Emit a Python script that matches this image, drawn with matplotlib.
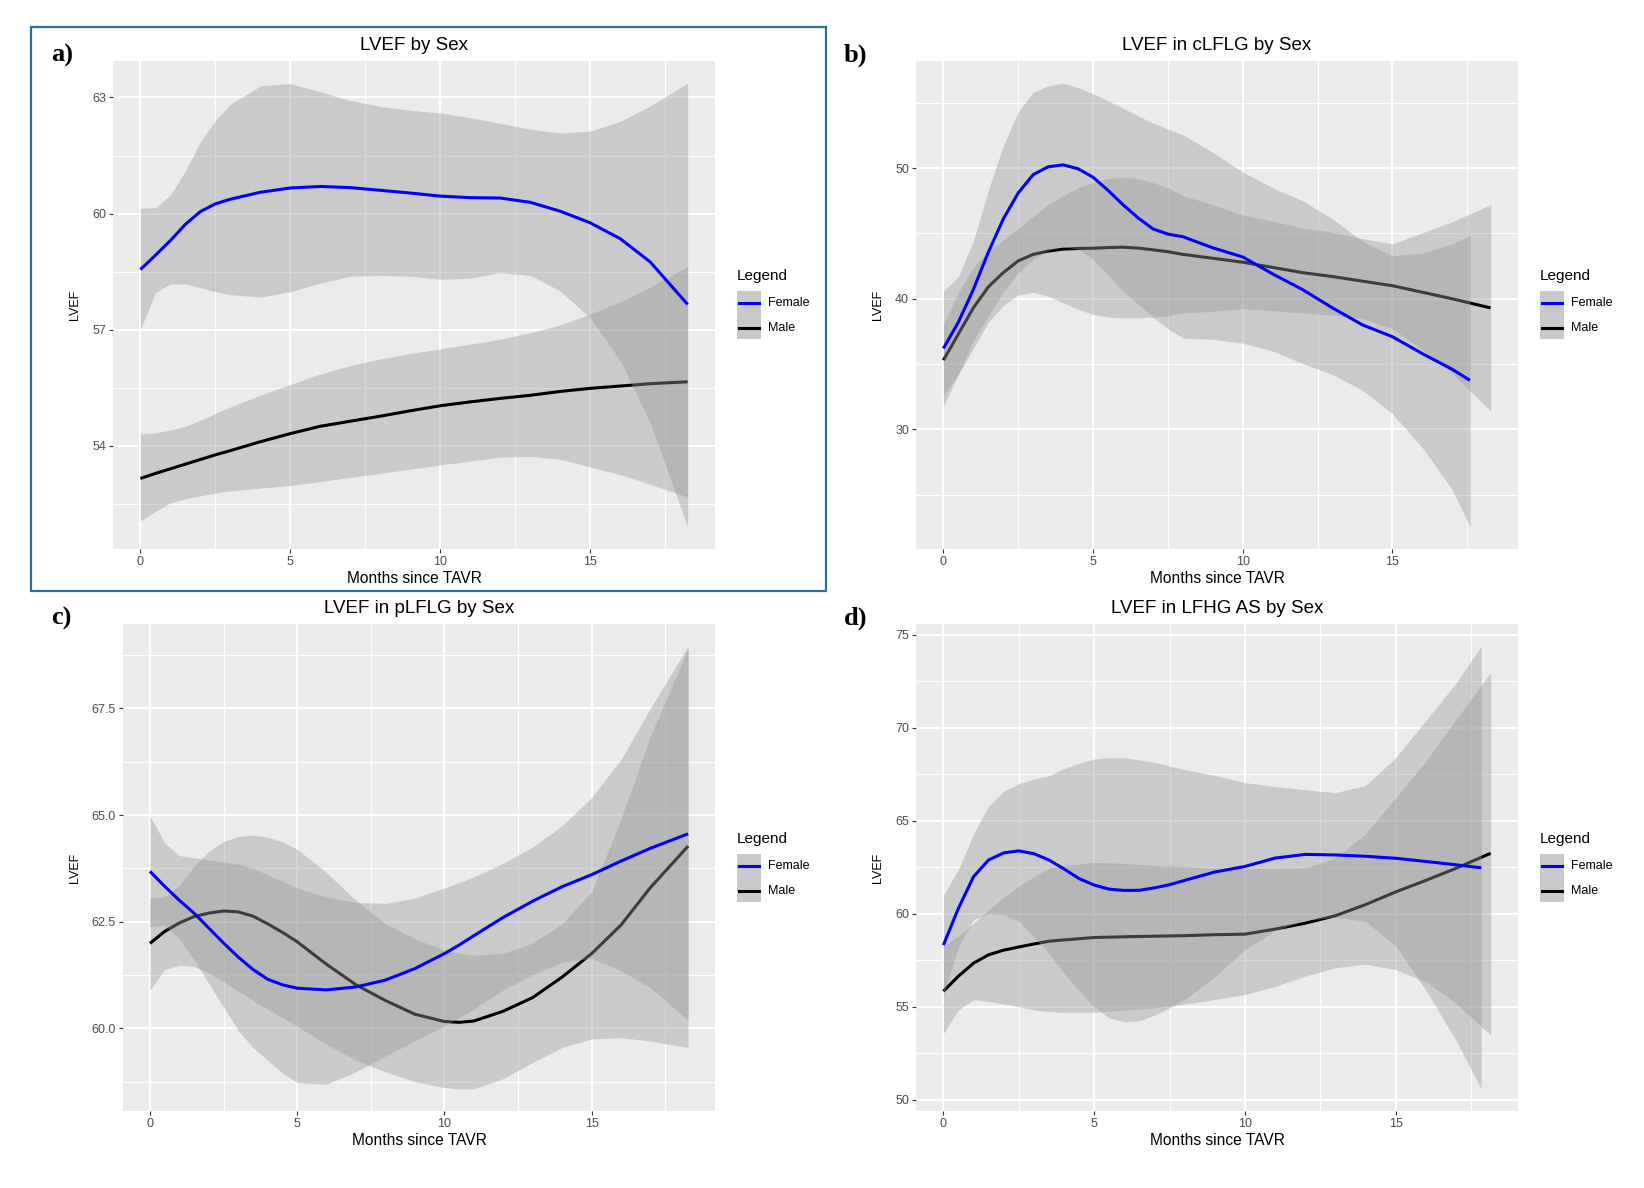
import matplotlib
matplotlib.use("Agg")
import matplotlib.pyplot as plt
from matplotlib.lines import Line2D
from matplotlib.patches import Rectangle
from matplotlib.ticker import MultipleLocator, FormatStrFormatter

plt.rcParams['font.family'] = ['Liberation Sans', 'DejaVu Sans']

# ---- a) LVEF by Sex ----
a_x = [0, 0.5, 1, 1.5, 2, 2.5, 3, 4, 5, 6, 7, 8, 9, 10, 11, 12, 13, 14, 15, 16, 17, 18.25]
a_f_fit = [58.55, 58.92, 59.3, 59.72, 60.05, 60.25, 60.37, 60.55, 60.66, 60.70, 60.67, 60.60,
           60.53, 60.45, 60.41, 60.40, 60.29, 60.06, 59.76, 59.35, 58.75, 57.65]
a_f_hi = [60.14, 60.15, 60.48, 61.1, 61.85, 62.4, 62.82, 63.3, 63.36, 63.15, 62.92, 62.77,
          62.67, 62.6, 62.48, 62.33, 62.18, 62.08, 62.13, 62.38, 62.78, 63.37]
a_f_lo = [57.0, 57.95, 58.18, 58.18, 58.08, 57.98, 57.9, 57.84, 57.98, 58.2, 58.38, 58.4,
          58.38, 58.3, 58.33, 58.47, 58.4, 58.0, 57.3, 56.2, 54.6, 51.9]
a_m_fit = [53.15, 53.28, 53.4, 53.52, 53.64, 53.76, 53.87, 54.1, 54.31, 54.5, 54.63, 54.76,
           54.9, 55.03, 55.13, 55.22, 55.3, 55.4, 55.48, 55.54, 55.6, 55.65]
a_m_hi = [54.3, 54.33, 54.4, 54.5, 54.66, 54.83, 55.0, 55.3, 55.58, 55.85, 56.07, 56.24,
          56.38, 56.5, 56.62, 56.75, 56.92, 57.12, 57.4, 57.72, 58.1, 58.63]
a_m_lo = [52.05, 52.3, 52.52, 52.63, 52.7, 52.77, 52.83, 52.9, 52.97, 53.07, 53.18, 53.28,
          53.39, 53.5, 53.6, 53.7, 53.72, 53.65, 53.45, 53.25, 53.0, 52.67]

# ---- b) LVEF in cLFLG by Sex ----
b_x_f = [0, 0.5, 1, 1.5, 2, 2.5, 3, 3.5, 4, 4.5, 5, 5.5, 6, 6.5, 7, 7.5, 8,
         9, 10, 11, 12, 13, 14, 15, 16, 17, 17.59]
b_f_fit = [36.2, 38.2, 40.7, 43.55, 46.1, 48.1, 49.5, 50.1, 50.25, 49.95, 49.3, 48.3,
           47.2, 46.2, 45.35, 44.95, 44.75, 43.9, 43.2, 41.9, 40.7, 39.3, 38.0, 37.1,
           35.8, 34.6, 33.76]
b_f_hi = [40.6, 41.7, 44.4, 48.3, 51.7, 54.3, 55.8, 56.3, 56.5, 56.15, 55.7, 55.15,
          54.6, 54.0, 53.45, 53.0, 52.55, 51.2, 49.7, 48.5, 47.5, 46.1, 44.4, 43.3,
          43.5, 44.2, 44.85]
b_f_lo = [31.8, 34.2, 36.8, 38.7, 40.5, 42.0, 43.0, 43.7, 44.0, 43.8, 43.0, 41.8,
          40.6, 39.6, 38.6, 37.7, 37.0, 36.9, 36.6, 36.0, 35.05, 34.2, 33.0, 31.2,
          28.6, 25.4, 22.55]
b_x_m = [0, 0.5, 1, 1.5, 2, 2.5, 3, 3.5, 4, 4.5, 5, 5.5, 6, 6.5, 7, 7.5, 8,
         9, 10, 11, 12, 13, 14, 15, 16, 17, 18.28]
b_m_fit = [35.3, 37.3, 39.3, 40.9, 42.0, 42.9, 43.4, 43.65, 43.8, 43.85, 43.87, 43.92,
           43.95, 43.88, 43.75, 43.6, 43.4, 43.1, 42.8, 42.4, 42.0, 41.7, 41.35, 41.0,
           40.5, 40.0, 39.3]
b_m_hi = [38.0, 40.5, 42.4, 43.6, 44.5, 45.4, 46.3, 47.2, 47.9, 48.5, 48.9, 49.2,
          49.3, 49.2, 48.9, 48.5, 47.9, 47.2, 46.4, 45.95, 45.4, 45.1, 44.6, 44.2,
          45.05, 45.9, 47.2]
b_m_lo = [32.6, 34.2, 36.2, 38.2, 39.5, 40.3, 40.5, 40.2, 39.7, 39.2, 38.8, 38.6,
          38.55, 38.55, 38.6, 38.7, 38.9, 39.05, 39.25, 39.1, 38.9, 38.75, 38.5, 37.7,
          36.1, 34.3, 31.4]

# ---- c) LVEF in pLFLG by Sex ----
c_x = [0, 0.5, 1, 1.5, 2, 2.5, 3, 3.5, 4, 4.5, 5, 6, 7, 8, 9, 10, 10.5, 11, 12, 13, 14,
       15, 16, 17, 18.28]
c_f_fit = [63.68, 63.33, 63.0, 62.7, 62.35, 62.0, 61.67, 61.38, 61.15, 61.02, 60.94, 60.9,
           60.97, 61.13, 61.4, 61.75, 61.95, 62.17, 62.6, 62.98, 63.32, 63.6, 63.92, 64.22,
           64.56]
c_f_hi = [64.98, 64.35, 64.05, 64.0, 63.95, 63.9, 63.85, 63.75, 63.6, 63.45, 63.29, 63.08,
          62.95, 62.93, 63.05, 63.29, 63.42, 63.55, 63.87, 64.25, 64.75, 65.41, 66.3, 67.5,
          68.96]
c_f_lo = [62.38, 62.42, 62.1, 61.6, 61.05, 60.5, 59.95, 59.55, 59.25, 58.95, 58.73, 58.69,
          58.98, 59.35, 59.7, 60.06, 60.25, 60.45, 60.9, 61.25, 61.55, 61.64, 61.35, 60.95,
          60.18]
c_m_fit = [61.99, 62.27, 62.47, 62.62, 62.7, 62.75, 62.73, 62.63, 62.45, 62.25, 62.03,
           61.5, 61.02, 60.65, 60.33, 60.16, 60.14, 60.17, 60.4, 60.72, 61.2, 61.75, 62.42,
           63.3, 64.27]
c_m_hi = [63.05, 63.08, 63.35, 63.8, 64.15, 64.38, 64.5, 64.53, 64.48, 64.37, 64.2, 63.65,
          63.0, 62.45, 62.1, 61.83, 61.76, 61.71, 61.76, 62.0, 62.45, 63.2, 64.9, 66.85,
          68.9]
c_m_lo = [60.89, 61.38, 61.48, 61.45, 61.3, 61.1, 60.87, 60.66, 60.45, 60.25, 60.05, 59.62,
          59.25, 58.98, 58.75, 58.61, 58.58, 58.58, 58.82, 59.2, 59.55, 59.75, 59.78, 59.7,
          59.55]

# ---- d) LVEF in LFHG AS by Sex ----
d_x_f = [0, 0.5, 1, 1.5, 2, 2.5, 3, 3.5, 4, 4.5, 5, 5.5, 6, 6.5, 7, 7.5, 8,
         9, 10, 11, 12, 13, 14, 15, 16, 17, 17.84]
d_f_fit = [58.32, 60.3, 62.0, 62.9, 63.28, 63.39, 63.24, 62.9, 62.42, 61.9, 61.55, 61.33,
           61.26, 61.27, 61.4, 61.57, 61.8, 62.25, 62.55, 63.0, 63.2, 63.17, 63.1, 62.99,
           62.82, 62.64, 62.48]
d_f_hi = [61.0, 62.4, 64.3, 65.8, 66.6, 67.0, 67.25, 67.42, 67.82, 68.1, 68.33, 68.4,
          68.4, 68.28, 68.15, 67.95, 67.76, 67.45, 67.06, 66.85, 66.68, 66.52, 66.9, 68.4,
          70.4, 72.4, 74.4]
d_f_lo = [55.64, 58.2, 59.7, 60.0, 59.95, 59.6, 58.75, 57.9, 56.8, 55.85, 55.0, 54.4,
          54.2, 54.25, 54.55, 54.95, 55.4, 56.6, 58.1, 59.1, 59.65, 59.82, 59.6, 58.28,
          55.9, 53.2, 50.59]
d_x_m = [0, 0.5, 1, 1.5, 2, 2.5, 3, 3.5, 4, 5, 6, 7, 8, 9, 10, 11, 12, 13, 14, 15,
         16, 17, 18.15]
d_m_fit = [55.84, 56.65, 57.35, 57.8, 58.05, 58.22, 58.38, 58.53, 58.6, 58.73, 58.77,
           58.8, 58.83, 58.88, 58.91, 59.18, 59.5, 59.9, 60.5, 61.18, 61.8, 62.45, 63.26]
d_m_hi = [58.28, 58.8, 59.5, 60.2, 60.9, 61.5, 62.0, 62.44, 62.6, 62.77, 62.72, 62.6,
          62.55, 62.45, 62.44, 62.44, 62.47, 63.0, 64.3, 66.25, 68.2, 70.45, 72.98]
d_m_lo = [53.57, 54.84, 55.38, 55.3, 55.15, 55.0, 54.84, 54.75, 54.7, 54.71, 54.82,
          54.95, 55.15, 55.4, 55.66, 56.1, 56.65, 57.1, 57.3, 57.0, 56.35, 55.2, 53.48]

x_ticks = [0, 5, 10, 15]
legend_labels = ['Female', 'Male']

W, H = 1644, 1188
fig = plt.figure(figsize=(W / 100, H / 100), dpi=100)
fig.patch.set_facecolor('white')

BAND = '#999999'
BLUE = '#0000FF'
KEY = '#C9C9C9'


def fx(px):
    return px / W


def fy(py):
    return 1 - py / H


def draw_legend(lx, ly):
    # ggplot-style legend: title, then a column of grey keys
    fig.text(fx(lx), fy(ly), 'Legend', fontsize=11, va='top', ha='left')
    fig.patches.append(Rectangle((fx(lx), fy(ly + 70)), 24 / W, 48 / H,
                                 transform=fig.transFigure, facecolor=KEY, edgecolor='none'))
    for i, (lab, col) in enumerate(zip(legend_labels, [BLUE, 'black'])):
        yy = ly + 34 + 24.5 * i
        fig.lines.append(Line2D([fx(lx + 2), fx(lx + 22)], [fy(yy), fy(yy)],
                                transform=fig.transFigure, color=col, lw=2.2))
        fig.text(fx(lx + 31), fy(yy), lab, fontsize=9, va='center', ha='left')


def add_panel(box, title, letter, letter_xy, ymajor, fmt, female, male, legend_xy):
    x0, y0, x1, y1 = box
    ax = fig.add_axes([fx(x0), fy(y1), (x1 - x0) / W, (y1 - y0) / H])
    ax.set_facecolor('#EBEBEB')
    for s in ax.spines.values():
        s.set_visible(False)
    ax.set_axisbelow(True)

    xm, m_fit, m_lo, m_hi = male
    xf, f_fit, f_lo, f_hi = female
    # male drawn first, female ribbon lies over the male line
    ax.fill_between(xm, m_lo, m_hi, color=BAND, alpha=0.4, lw=0, zorder=2)
    ax.plot(xm, m_fit, color='black', lw=2.2, zorder=3, solid_capstyle='butt',
            solid_joinstyle='round')
    ax.fill_between(xf, f_lo, f_hi, color=BAND, alpha=0.4, lw=0, zorder=4)
    ax.plot(xf, f_fit, color=BLUE, lw=2.2, zorder=5, solid_capstyle='butt',
            solid_joinstyle='round')
    ax.margins(x=0.05, y=0.05)

    ax.set_xticks(x_ticks)
    ax.xaxis.set_minor_locator(MultipleLocator(2.5))
    ax.yaxis.set_major_locator(MultipleLocator(ymajor))
    ax.yaxis.set_minor_locator(MultipleLocator(ymajor / 2))
    ax.yaxis.set_major_formatter(FormatStrFormatter(fmt))
    ax.grid(which='major', color='white', lw=1.4)
    ax.grid(which='minor', color='white', lw=0.7)
    ax.tick_params(which='major', length=3, width=0.8, color='#333333',
                   labelcolor='#4D4D4D', labelsize=9, pad=2)
    ax.tick_params(which='minor', length=0)

    ax.set_title(title, fontsize=13.5, pad=8)
    ax.set_xlabel('Months since TAVR', fontsize=11.2, labelpad=2)
    ax.set_ylabel('LVEF', fontsize=9, labelpad=8)

    draw_legend(*legend_xy)
    fig.text(fx(letter_xy[0]), fy(letter_xy[1]), letter, fontsize=19, fontweight='bold',
             family=['Liberation Serif', 'DejaVu Serif'], va='center', ha='left')
    return ax


add_panel((113, 61, 715, 549), 'LVEF by Sex', 'a)', (51, 55), 3, '%d',
          (a_x, a_f_fit, a_f_lo, a_f_hi), (a_x, a_m_fit, a_m_lo, a_m_hi), (737, 269))
add_panel((916, 61, 1518, 549), 'LVEF in cLFLG by Sex', 'b)', (844, 55), 10, '%d',
          (b_x_f, b_f_fit, b_f_lo, b_f_hi), (b_x_m, b_m_fit, b_m_lo, b_m_hi), (1540, 269))
add_panel((123, 624, 715, 1111), 'LVEF in pLFLG by Sex', 'c)', (51, 618), 2.5, '%.1f',
          (c_x, c_f_fit, c_f_lo, c_f_hi), (c_x, c_m_fit, c_m_lo, c_m_hi), (737, 832))
add_panel((916, 624, 1518, 1111), 'LVEF in LFHG AS by Sex', 'd)', (844, 618), 5, '%d',
          (d_x_f, d_f_fit, d_f_lo, d_f_hi), (d_x_m, d_m_fit, d_m_lo, d_m_hi), (1540, 832))

# frame around panel a
fig.patches.append(Rectangle((fx(31), fy(591)), (826 - 31) / W, (591 - 27) / H,
                             transform=fig.transFigure, fill=False,
                             edgecolor='#2F6F8F', lw=1.6))

fig.savefig('out.png', dpi=100)
